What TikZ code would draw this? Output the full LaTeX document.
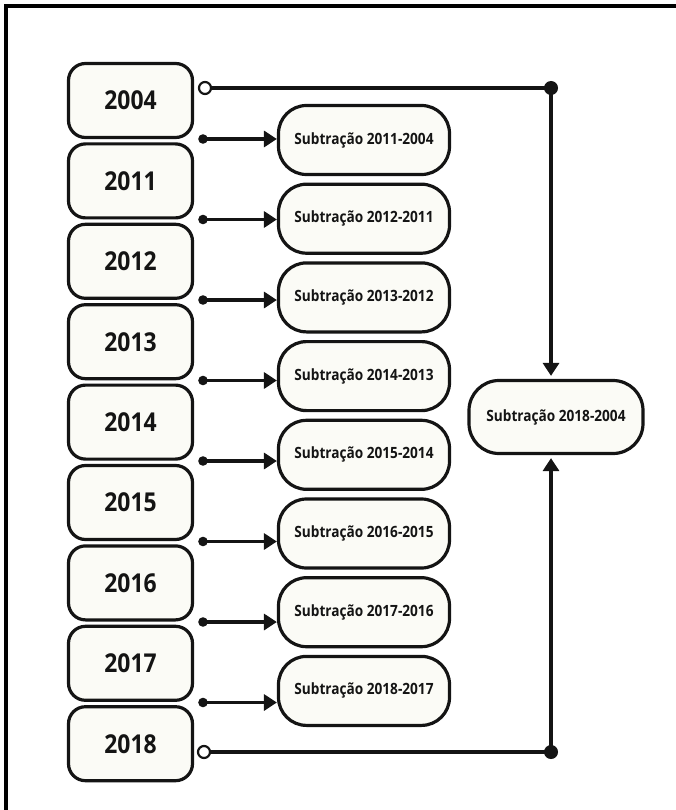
\documentclass[tikz,border=0pt]{standalone}
\usepackage{fontspec}
\newfontfamily\osans[FakeStretch=0.88]{Open Sans}
\usetikzlibrary{arrows.meta,calc}
\definecolor{boxfill}{RGB}{251,251,246}
\definecolor{ink}{RGB}{20,20,20}
\begin{document}
\begin{tikzpicture}[x=1pt,y=-1pt,
  yearbox/.style={draw=ink,line width=3.2pt,fill=boxfill,rounded corners=17pt,minimum width=124pt,minimum height=74pt,inner sep=0pt,font=\osans\bfseries\fontsize{26}{30}\selectfont,text=ink},
  subbox/.style={draw=ink,line width=3.2pt,fill=boxfill,rounded corners=28pt,minimum width=171pt,minimum height=69pt,inner sep=0pt,font=\osans\bfseries\fontsize{15.5}{18}\selectfont,text=ink},
  conn/.style={draw=ink,line width=3.2pt},
  arr/.style={conn,-{Triangle[length=13pt,width=16pt]}}]
\useasboundingbox (0,0) rectangle (675,810);
\draw[line width=4.5pt] (6,812) -- (6,6) -- (677,6);
\foreach \yr [count=\i from 0] in {2004,2011,2012,2013,2014,2015,2016,2017,2018}
  \node[yearbox] (y\i) at (130.5,{100.5+80.4*\i}) {\yr};
\foreach \lab [count=\i] in {2011-2004,2012-2011,2013-2012,2014-2013,2015-2014,2016-2015,2017-2016,2018-2017}
  \node[subbox] (s\i) at (364,{140+78.7*(\i-1)}) {Subtração \lab};
\foreach \i in {1,...,8} {
  \coordinate (a\i) at (203,{139+80.5*(\i-1)});
  \fill[ink] (a\i) circle (4.8pt);
  \draw[arr] (a\i) -- (a\i -| s\i.west);
}
\node[subbox,minimum width=174pt,minimum height=73pt,rounded corners=30pt] (r) at (556,417) {Subtração 2018-2004};
\coordinate (c1) at (205,88);
\coordinate (d1) at (551,88);
\coordinate (c2) at (204,752);
\coordinate (d2) at (551,752);
\draw[conn] (c1) -- (d1);
\draw[conn] (c2) -- (d2);
\draw[ink,line width=2.2pt,fill=white] (c1) circle (6pt);
\draw[ink,line width=2.2pt,fill=white] (c2) circle (6pt);
\fill[ink] (d1) circle (7pt);
\fill[ink] (d2) circle (7pt);
\draw[arr,shorten >=3pt] (d1) -- (d1 |- r.north);
\draw[arr,shorten >=3pt] (d2) -- (d2 |- r.south);
\end{tikzpicture}
\end{document}
